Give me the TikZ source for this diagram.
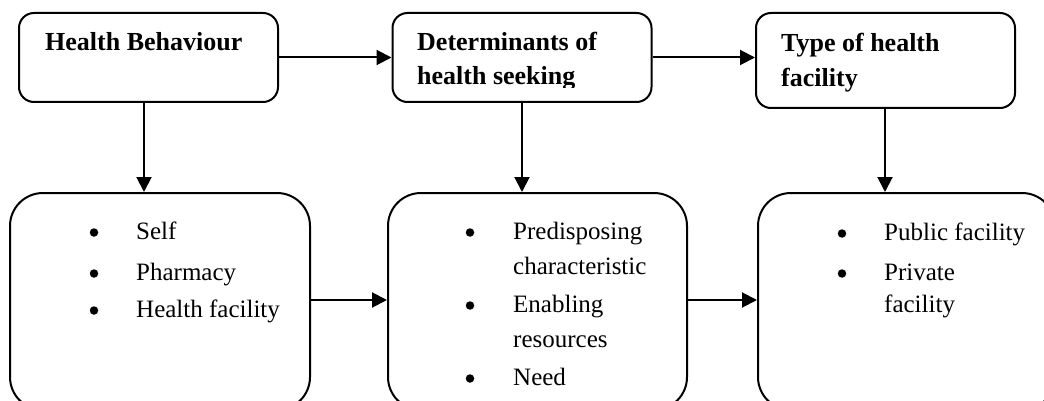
\documentclass[tikz,border=0pt]{standalone}
\usepackage{fontspec}
\setmainfont{Liberation Serif}
\usetikzlibrary{arrows.meta}
\begin{document}
\begin{tikzpicture}[x=1pt,y=-1pt,
  box/.style={draw, line width=2pt, rounded corners=15pt, inner sep=0pt},
  listbox/.style={draw, line width=2pt, rounded corners=33pt, inner sep=0pt},
  head/.style={inner sep=0pt, anchor=base west, font=\fontsize{26}{30}\selectfont\bfseries},
  item/.style={inner sep=0pt, anchor=base west, font=\fontsize{25}{30}\selectfont},
  dot/.style={circle, fill, inner sep=0pt, minimum size=8.5pt, yshift=6.5pt},
  arr/.style={line width=2pt, -{Triangle[length=15pt,width=15pt]}}]
\useasboundingbox (0,0) rectangle (1044,401);
\clip (0,0) rectangle (1044,401);
\fill[white] (0,0) rectangle (1044,401);

% heading boxes
\node[box, minimum width=259pt, minimum height=89pt] (b1) at (148.5,57.5) {};
\node[box, minimum width=259pt, minimum height=89pt] (b2) at (522,57.5) {};
\node[box, minimum width=259pt, minimum height=95pt] (b3) at (885.5,60.5) {};

% list boxes (run past the lower edge)
\node[listbox, minimum width=300pt, minimum height=217pt] (l1) at (160,301.5) {};
\node[listbox, minimum width=299pt, minimum height=217pt] (l2) at (537.5,301.5) {};
\node[listbox, minimum width=297pt, minimum height=217pt] (l3) at (906.5,301.5) {};

% headings
\node[head] (t1) at (45,51) {Health Behaviour};
\node[head] (t2a) at (417,51) {Determinants of};
\begin{scope}
  \clip (392,13) rectangle (652,87.5);
  \node[head] (t2b) at (417,85) {health seeking};
\end{scope}
\node[head] (t3a) at (781,52) {Type of health};
\node[head] (t3b) at (781,87) {facility};

% first list
\node[dot] (d11) at (94,239) {};
\node[item] (i11) at (136,239) {Self};
\node[dot] (d12) at (94,280) {};
\node[item] (i12) at (136,280) {Pharmacy};
\node[dot] (d13) at (94,317) {};
\node[item] (i13) at (136,317) {Health facility};

% second list
\node[dot] (d21) at (470,239) {};
\node[item] (i21a) at (513,239) {Predisposing};
\node[item] (i21b) at (513,274) {characteristic};
\node[dot] (d22) at (470,312) {};
\node[item] (i22a) at (513,312) {Enabling};
\node[item] (i22b) at (513,347) {resources};
\node[dot] (d23) at (470,385) {};
\node[item] (i23) at (513,385) {Need};

% third list
\node[dot] (d31) at (842,240) {};
\node[item] (i31) at (884,240) {Public facility};
\node[dot] (d32) at (842,280) {};
\node[item] (i32a) at (884,280) {Private};
\node[item] (i32b) at (884,312) {facility};

% connectors
\coordinate (v1) at (144,0);
\coordinate (v2) at (522,0);
\coordinate (v3) at (885,0);
\coordinate (h) at (0,300);
\draw[arr] (b1.east) -- (b1.east -| b2.west);
\draw[arr] (b2.east) -- (b2.east -| b3.west);
\draw[arr] (v1 |- b1.south) -- (v1 |- l1.north);
\draw[arr] (v2 |- b2.south) -- (v2 |- l2.north);
\draw[arr] (v3 |- b3.south) -- (v3 |- l3.north);
\draw[arr] (l1.east |- h) -- (l2.west |- h);
\draw[arr] (l2.east |- h) -- (l3.west |- h);
\end{tikzpicture}
\end{document}
